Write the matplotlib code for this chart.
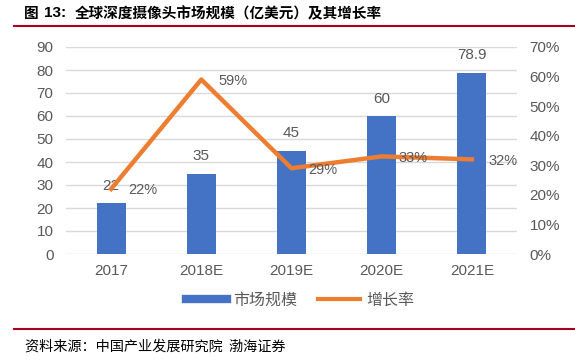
import numpy as np
import matplotlib.pyplot as plt
from matplotlib.lines import Line2D

plt.rcParams['font.family'] = ['Liberation Sans', 'Noto Sans CJK SC']

years = ['2017', '2018E', '2019E', '2020E', '2021E']
market = [22, 35, 45, 60, 78.9]
market_labels = ['22', '35', '45', '60', '78.9']
growth = [22, 59, 29, 33, 32]

bar_color = '#4472C4'
line_color = '#ED7D31'
text_color = '#595959'

fig = plt.figure(figsize=(5.75, 3.62), dpi=100)
ax = fig.add_axes([66 / 575, 1 - 254 / 362, 451 / 575, 207 / 362])
ax2 = ax.twinx()

x = np.arange(len(years))
ax.bar(x, market, width=0.32, color=bar_color, zorder=2)
ax.set_ylim(0, 90)
ax.set_yticks(np.arange(0, 91, 10))
ax.set_xlim(-0.5, len(years) - 0.5)
ax.set_xticks(x)
ax.set_xticklabels(years)
ax.grid(axis='y', color='#D9D9D9', linewidth=1, zorder=0)
ax.set_axisbelow(True)

# bar values, about 17px above each bar
for xi, v, lab in zip(x, market, market_labels):
    ax.annotate(lab, (xi, v), xytext=(0, 12.5), textcoords='offset points',
                ha='center', va='center', fontsize=11, color=text_color)

ax2.plot(x, growth, color=line_color, linewidth=3.2, zorder=3)
ax2.set_ylim(0, 70)
ax2.set_yticks(np.arange(0, 71, 10))
ax2.set_yticklabels([f'{v}%' for v in range(0, 71, 10)])

for xi, g in zip(x, growth):
    ax2.annotate(f'{g}%', (xi, g), xytext=(12, -1), textcoords='offset points',
                 ha='left', va='center', fontsize=10.5, color=text_color)

for a in (ax, ax2):
    for s in a.spines.values():
        s.set_visible(False)
    a.tick_params(length=0, colors=text_color, labelsize=11)
ax.tick_params(axis='x', pad=7)
ax.tick_params(axis='y', pad=9)
ax2.tick_params(axis='y', pad=9)

handles = [Line2D([0], [0], color=bar_color, linewidth=6),
           Line2D([0], [0], color=line_color, linewidth=3)]
fig.legend(handles, ['市场规模', '增长率'], loc='center', bbox_to_anchor=(300 / 575, 1 - 300 / 362),
           ncol=2, frameon=False, handlelength=2.6, handletextpad=0.4,
           columnspacing=1.3, labelcolor=text_color, prop={'family': 'Noto Sans CJK SC', 'size': 11.5})

fig.text(24 / 575, 1 - 13 / 362, '图', fontsize=10.5, fontweight='bold', va='center', ha='left',
         family='Noto Sans CJK SC')
fig.text(44 / 575, 1 - 13 / 362, '13:', fontsize=11, fontweight='bold', va='center', ha='left')
fig.text(75 / 575, 1 - 13 / 362, '全球深度摄像头市场规模（亿美元）及其增长率',
         fontsize=10.5, fontweight='bold', va='center', ha='left', family='Noto Sans CJK SC')
fig.add_artist(Line2D([14 / 575, 574 / 575], [1 - 25.5 / 362] * 2, color='#A50021', linewidth=1.5))
fig.add_artist(Line2D([14 / 575, 574 / 575], [1 - 329 / 362] * 2, color='#A50021', linewidth=1.5))
fig.text(25 / 575, 1 - 347 / 362, '资料来源：中国产业发展研究院  渤海证券',
         fontsize=10.2, va='center', ha='left', color='#000000', family='Noto Sans CJK SC')

fig.savefig('out.png', dpi=100)
